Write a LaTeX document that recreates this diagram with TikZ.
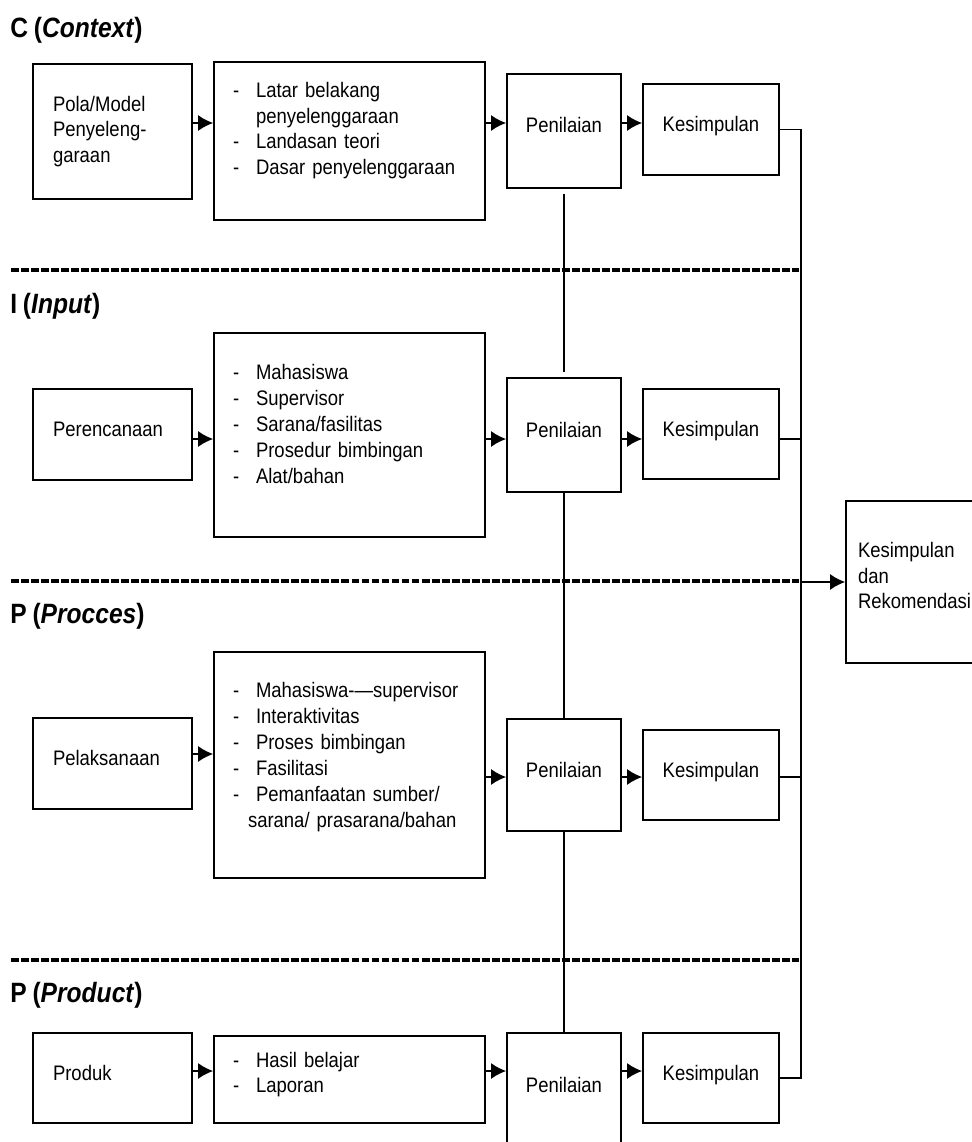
\documentclass[tikz,border=0pt]{standalone}
\usepackage{fontspec}
\setmainfont{Liberation Sans}[FakeStretch=0.88, WordSpace=0.85]
\usetikzlibrary{arrows.meta}
\newcommand{\isi}{\fontsize{11.95pt}{14.7pt}\selectfont}
\newcommand{\butir}[1]{\makebox[0.46cm][l]{-}#1}
\tikzset{
    kotak/.style   = {draw, line width=1pt, inner sep=0pt, font=\isi},
    satu/.style    = {text height=0.3cm, text depth=0.22cm},
    kiri/.style    = {kotak, align=left, inner xsep=0.4cm, text width=2.38cm, minimum width=3.18cm},
    daftar/.style  = {kotak, align=left, inner xsep=0.38cm, text width=4.66cm, minimum width=5.42cm,
                      execute at end node={\par\vspace{#1}}},
    nilai/.style   = {kotak, satu, align=center, minimum width=2.28cm, minimum height=2.28cm},
    simpul/.style  = {kotak, satu, align=center, minimum width=2.72cm, minimum height=1.8cm},
    panah/.style   = {line width=1pt, -{Latex[length=0.3cm,width=0.32cm]}},
    garis/.style   = {line width=1pt},
    pemisah/.style = {line width=1.8pt, dash pattern=on 4.5pt off 1.2pt},
    judul/.style   = {anchor=base west, inner sep=0pt, font=\fontsize{15.9pt}{19pt}\selectfont\bfseries}
}
\begin{document}
\begin{tikzpicture}[x=0.02cm, y=-0.02cm]
    \useasboundingbox (0,0) rectangle (972,1142);

    \node (tc) at (10,  38) [judul] {C (\textit{Context})};
    \node (ti) at (10, 313) [judul] {I (\textit{Input})};
    \node (tp) at (10, 623) [judul] {P (\textit{Procces})};
    \node (td) at (10,1002) [judul] {P (\textit{Product})};

    \draw[pemisah] (11, 270) -- (799, 270);
    \draw[pemisah] (11, 581) -- (799, 581);
    \draw[pemisah] (11, 960) -- (799, 960);

    \coordinate (rowC)  at (0, 123);
    \coordinate (rowI)  at (0, 439);
    \coordinate (rowP0) at (0, 754);
    \coordinate (rowP)  at (0, 777);
    \coordinate (rowD)  at (0,1071);
    \coordinate (bus)   at (801, 0);

    \node (pola)    at (112.5, 131.5) [kiri, minimum height=2.7cm] {Pola/Model\\Penyeleng-\\garaan};
    \node (ctxlist) at (349.5, 141)   [daftar=0.42cm, minimum height=3.16cm]
        {\butir{Latar belakang}\\\hspace*{0.46cm}penyelenggaraan\\\butir{Landasan teori}\\\butir{Dasar penyelenggaraan}};
    \node (nil1)    at (564, 131)     [nilai] {Penilaian};
    \node (kes1)    at (711, 129.5)   [simpul, minimum height=1.82cm] {Kesimpulan};

    \node (plan)    at (112.5, 434.5) [kiri, satu, minimum height=1.82cm] {Perencanaan};
    \node (inlist)  at (349.5, 435)   [daftar=0.44cm, minimum height=4.08cm]
        {\butir{Mahasiswa}\\\butir{Supervisor}\\\butir{Sarana/fasilitas}\\\butir{Prosedur bimbingan}\\\butir{Alat/bahan}};
    \node (nil2)    at (564, 435)     [nilai] {Penilaian};
    \node (kes2)    at (711, 434)     [simpul] {Kesimpulan};

    \node (pel)     at (112.5, 763.5) [kiri, satu, minimum height=1.82cm] {Pelaksanaan};
    \node (prolist) at (349.5, 765)   [daftar=0.32cm, minimum height=4.52cm]
        {\butir{Mahasiswa-—supervisor}\\\butir{Interaktivitas}\\\butir{Proses bimbingan}\\\butir{Fasilitasi}\\\butir{Pemanfaatan sumber/}\\\hspace*{0.3cm}sarana/ prasarana/bahan};
    \node (nil3)    at (564, 775)     [nilai, minimum height=2.24cm] {Penilaian};
    \node (kes3)    at (711, 775)     [simpul] {Kesimpulan};

    \node (prod)    at (112.5,1078)   [kiri, satu, minimum height=1.8cm] {Produk};
    \node (prdlist) at (349.5,1079.5) [daftar=0.2cm, minimum height=1.74cm]
        {\butir{Hasil belajar}\\\butir{Laporan}};
    \node (nil4)    at (564,1090)     [nilai] {Penilaian};
    \node (kes4)    at (711,1078)     [simpul] {Kesimpulan};

    \node (rek)     at (918, 582)     [kotak, align=left, inner xsep=0.24cm, text width=2.4cm, minimum height=3.24cm,
                                       execute at end node={\par\vspace{0.26cm}}] {Kesimpulan\\dan\\Rekomendasi};

    \draw[panah] (pola.east |- rowC)    -- (ctxlist.west |- rowC);
    \draw[panah] (ctxlist.east |- rowC) -- (nil1.west |- rowC);
    \draw[panah] (nil1.east |- rowC)    -- (kes1.west |- rowC);

    \draw[panah] (plan.east |- rowI)    -- (inlist.west |- rowI);
    \draw[panah] (inlist.east |- rowI)  -- (nil2.west |- rowI);
    \draw[panah] (nil2.east |- rowI)    -- (kes2.west |- rowI);

    \draw[panah] (pel.east |- rowP0)    -- (prolist.west |- rowP0);
    \draw[panah] (prolist.east |- rowP) -- (nil3.west |- rowP);
    \draw[panah] (nil3.east |- rowP)    -- (kes3.west |- rowP);

    \draw[panah] (prod.east |- rowD)    -- (prdlist.west |- rowD);
    \draw[panah] (prdlist.east |- rowD) -- (nil4.west |- rowD);
    \draw[panah] (nil4.east |- rowD)    -- (kes4.west |- rowD);

    \draw[garis, shorten <=0.1cm, shorten >=0.1cm] (nil1.south) -- (nil2.north);
    \draw[garis] (nil2.south) -- (nil3.north);
    \draw[garis] (nil3.south) -- (nil4.north);

    \draw[garis] (kes1.east) -- (kes1.east -| bus) -- (kes4.east -| bus) -- (kes4.east);
    \draw[garis] (kes2.east |- rowI) -- (bus |- rowI);
    \draw[garis] (kes3.east |- rowP) -- (bus |- rowP);
    \draw[panah] (bus |- rek.west) -- (rek.west);
\end{tikzpicture}
\end{document}
